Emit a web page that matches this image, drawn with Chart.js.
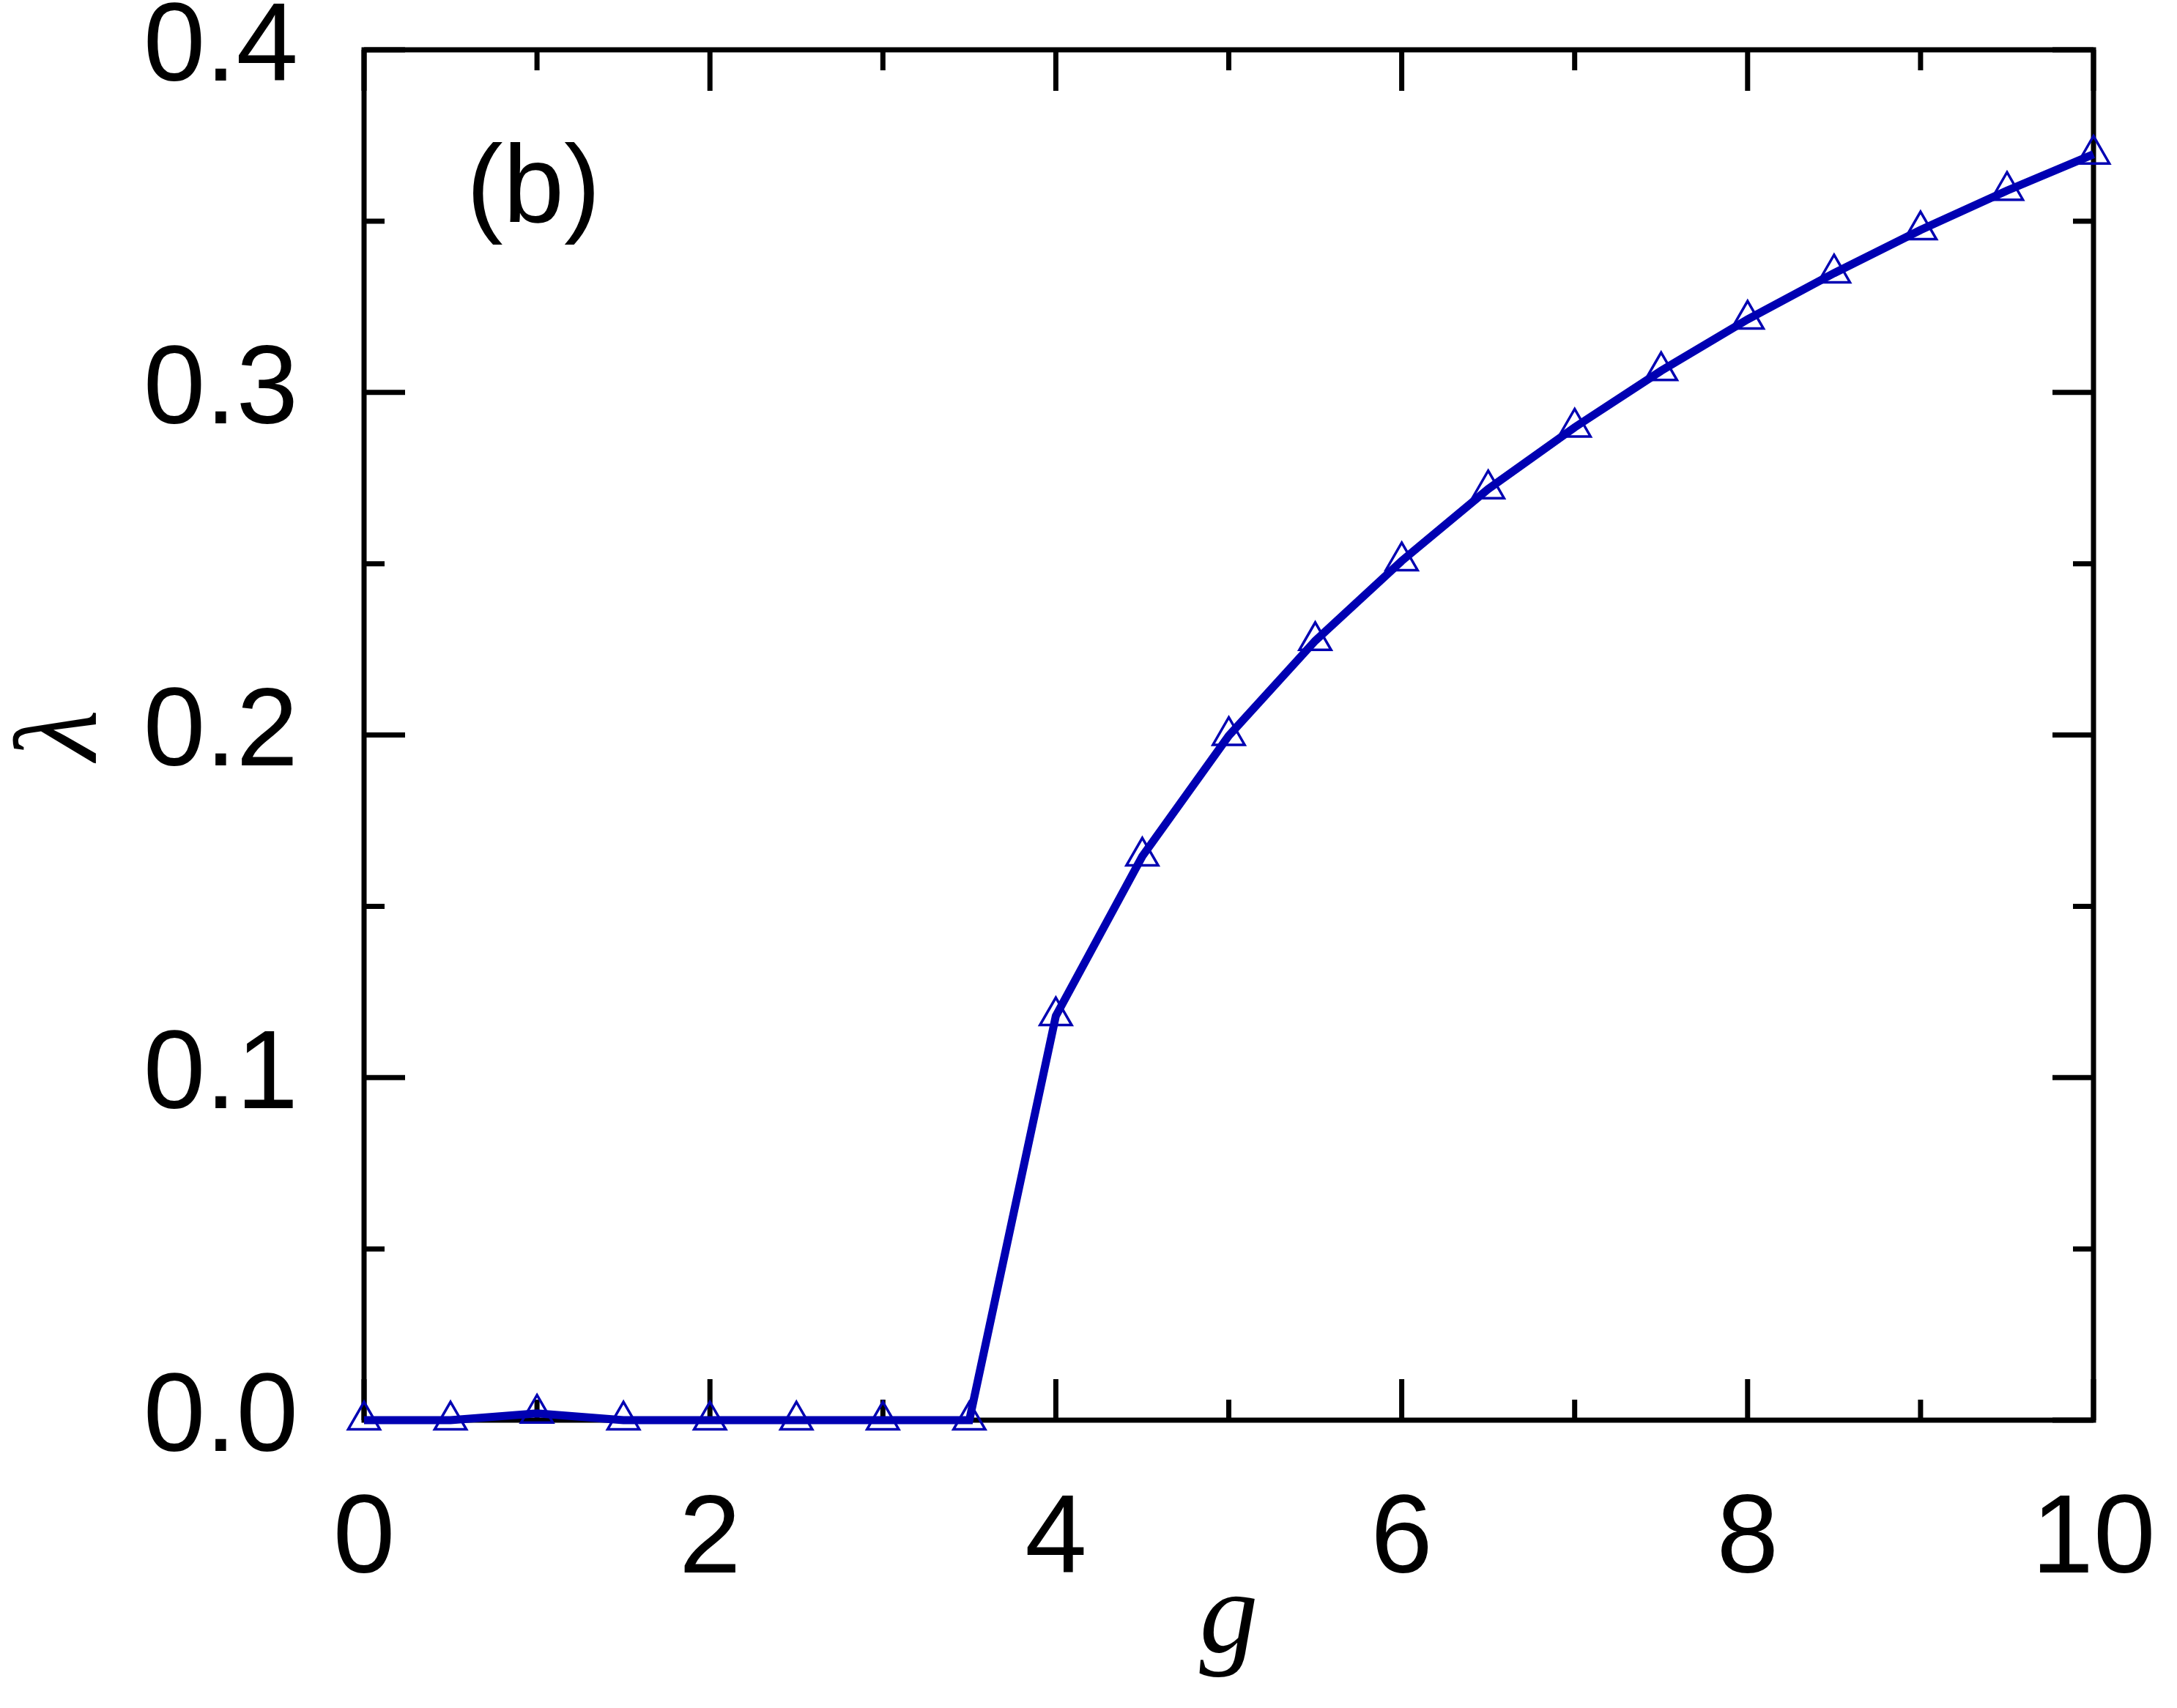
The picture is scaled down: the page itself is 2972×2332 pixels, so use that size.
<!DOCTYPE html>
<html>
<head>
<meta charset="utf-8">
<script src="https://cdn.jsdelivr.net/npm/chart.js@4.4.1/dist/chart.umd.min.js"></script>
<style>
  html, body { margin: 0; padding: 0; background: #ffffff; }
  #wrap { width: 2972px; height: 2332px; position: relative; }
</style>
</head>
<body>
<div id="wrap"><canvas id="lambdaChart"></canvas></div>
<script>
// values
const gValues = [0, 0.5, 1, 1.5, 2, 2.5, 3, 3.5, 4, 4.5, 5, 5.5, 6, 6.5, 7, 7.5, 8, 8.5, 9, 9.5, 10];
const lambdaValues = [0, 0, 0.002, 0, 0, 0, 0, 0, 0.118, 0.1646, 0.1998, 0.2275, 0.2508, 0.2718, 0.2898, 0.3063, 0.3213, 0.3348, 0.3474, 0.3589, 0.3695];

const xTickValues = [0, 2, 4, 6, 8, 10];
const xMinorTicks = [1, 3, 5, 7, 9];
const yTickValues = [0, 0.1, 0.2, 0.3, 0.4];
const yMinorTicks = [0.05, 0.15, 0.25, 0.35];

const lineColor = "#0000b2";

// frame + inward ticks on all four sides (matplotlib/gnuplot look)
const frameTicks = {
  id: "frameTicks",
  beforeDatasetsDraw(chart) {
    const { ctx, chartArea: a, scales } = chart;
    const xs = scales.x;
    const ys = scales.y;
    const major = 56;
    const minor = 28;
    ctx.save();
    ctx.strokeStyle = "#000000";
    ctx.lineWidth = 7;
    ctx.lineCap = "butt";
    ctx.beginPath();
    const tickX = (v, len) => {
      const px = xs.getPixelForValue(v);
      ctx.moveTo(px, a.bottom);
      ctx.lineTo(px, a.bottom - len);
      ctx.moveTo(px, a.top);
      ctx.lineTo(px, a.top + len);
    };
    const tickY = (v, len) => {
      const py = ys.getPixelForValue(v);
      ctx.moveTo(a.left, py);
      ctx.lineTo(a.left + len, py);
      ctx.moveTo(a.right, py);
      ctx.lineTo(a.right - len, py);
    };
    xTickValues.forEach((v) => tickX(v, major));
    xMinorTicks.forEach((v) => tickX(v, minor));
    yTickValues.forEach((v) => tickY(v, major));
    yMinorTicks.forEach((v) => tickY(v, minor));
    ctx.stroke();
    ctx.lineJoin = "miter";
    ctx.strokeRect(a.left, a.top, a.right - a.left, a.bottom - a.top);

    // panel label
    ctx.fillStyle = "#000000";
    ctx.font = "150px 'Liberation Sans', Arial, sans-serif";
    ctx.textAlign = "center";
    ctx.textBaseline = "middle";
    ctx.fillText("(b)", xs.getPixelForValue(0.98), ys.getPixelForValue(0.3585));
    ctx.restore();
  },
};

const ctx = document.getElementById("lambdaChart");

new Chart(ctx, {
  type: "scatter",
  data: {
    datasets: [
      {
        label: "lambda",
        data: gValues.map((g, i) => ({ x: g, y: lambdaValues[i] })),
        showLine: true,
        borderColor: lineColor,
        borderWidth: 11,
        tension: 0,
        pointStyle: "triangle",
        pointRadius: 25,
        pointBorderWidth: 3.5,
        pointBorderColor: lineColor,
        pointBackgroundColor: "rgba(0,0,0,0)",
        clip: false,
      },
    ],
  },
  options: {
    responsive: true,
    maintainAspectRatio: false,
    devicePixelRatio: 1,
    animation: false,
    layout: { padding: { top: 68, right: 114, bottom: 0, left: 0 } },
    plugins: {
      legend: { display: false },
      tooltip: { enabled: false },
    },
    scales: {
      x: {
        type: "linear",
        min: 0,
        max: 10,
        grid: { display: false, drawTicks: false },
        border: { display: false },
        afterBuildTicks: (scale) => {
          scale.ticks = xTickValues.map((v) => ({ value: v }));
        },
        afterFit: (scale) => {
          scale.height = 393;
          scale.paddingLeft = 0;
          scale.paddingRight = 0;
        },
        ticks: {
          color: "#000000",
          padding: 75,
          maxRotation: 0,
          font: { family: "'Liberation Sans', Arial, sans-serif", size: 152 },
          callback: (v) => String(v),
        },
        title: {
          display: true,
          text: "g",
          color: "#000000",
          padding: { top: 0, bottom: 38 },
          font: { family: "'Liberation Serif', 'DejaVu Serif', serif", size: 160, style: "italic", lineHeight: 1 },
        },
      },
      y: {
        type: "linear",
        min: 0,
        max: 0.4,
        grid: { display: false, drawTicks: false },
        border: { display: false },
        afterBuildTicks: (scale) => {
          scale.ticks = yTickValues.map((v) => ({ value: v }));
        },
        afterFit: (scale) => {
          scale.width = 497;
          scale.paddingTop = 0;
          scale.paddingBottom = 0;
        },
        ticks: {
          color: "#000000",
          padding: 90,
          font: { family: "'Liberation Sans', Arial, sans-serif", size: 152 },
          callback: (v) => Number(v).toFixed(1),
        },
        title: {
          display: true,
          text: "λ",
          color: "#000000",
          padding: { top: 9, bottom: 0 },
          font: { family: "'Liberation Serif', 'DejaVu Serif', serif", size: 160, style: "italic", lineHeight: 1 },
        },
      },
    },
  },
  plugins: [frameTicks],
});
</script>
</body>
</html>
